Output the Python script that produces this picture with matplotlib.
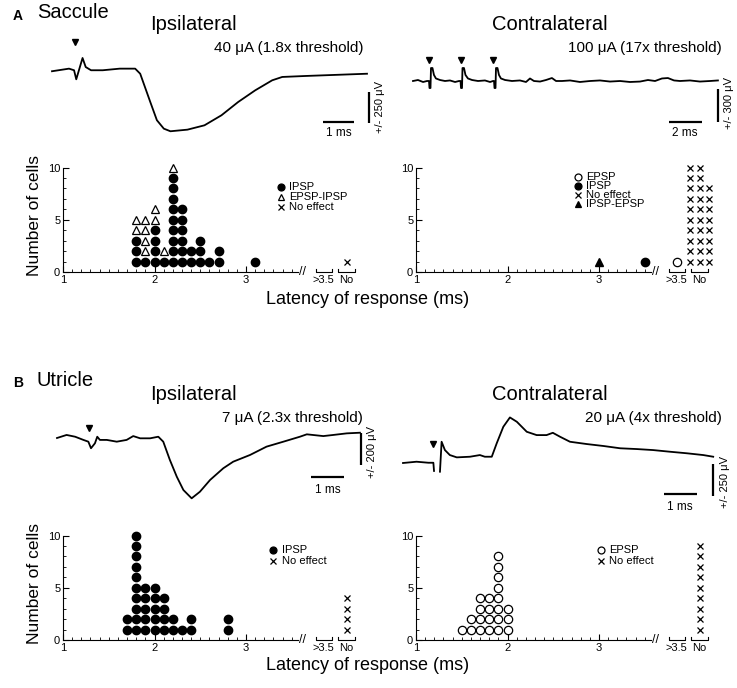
import numpy as np
import matplotlib
matplotlib.use('Agg')
import matplotlib.pyplot as plt
from matplotlib.ticker import FixedLocator

plt.rcParams['font.family'] = ['Liberation Sans', 'DejaVu Sans']

W, H = 737, 688
fig = plt.figure(figsize=(W / 100, H / 100), dpi=100)

# ---------------- trace data (time in ms, potential in µV) ----------------
sac_ipsi_t = [0, 0.54, 0.70, 0.77, 0.97, 1.07, 1.24, 1.61, 2.15, 2.64, 2.80, 3.12, 3.33, 3.55,
              3.76, 4.30, 4.84, 5.38, 5.91, 6.45, 6.99, 7.31, 8.06, 9.14, 10.0]
sac_ipsi_v = [-2, 19, 6, -67, 105, 32, 6, 6, 19, 19, -22, -250, -397, -465,
              -486, -473, -438, -357, -250, -156, -75, -48, -40, -30, -22]
sac_ipsi_stim = [0.73]

sac_contra_t = [0, 0.30, 0.61, 0.85, 0.97, 1.00, 1.06, 1.09, 1.18, 1.27, 1.39, 1.64, 1.94, 2.24,
                2.55, 2.79, 2.88, 2.91, 2.97, 3.00, 3.09, 3.18, 3.33, 3.58, 3.94, 4.36, 4.67,
                4.85, 4.91, 4.94, 5.00, 5.03, 5.12, 5.21, 5.33, 5.58, 6.00, 6.48, 6.85, 7.09,
                7.33, 7.70, 8.06, 8.42, 8.67, 9.03, 9.52, 10.12, 10.73, 11.33, 11.94, 12.55,
                13.15, 13.76, 14.24, 14.67, 15.09, 15.45, 15.82, 16.18, 16.79, 17.39, 18.0, 18.48]
sac_contra_v = [0, 9, -9, 0, 0, -64, -64, 118, 118, 55, 23, 9, 0, 5,
                -9, 0, 0, -64, -64, 118, 118, 55, 23, 9, 0, 5, -9,
                0, 0, -64, -64, 118, 118, 55, 23, 9, 0, 5, -9, 23,
                0, -5, 9, 27, 0, 0, 5, -9, 0, 5, -5, 0,
                -9, -5, 9, 0, 23, 27, 5, 0, 5, -5, 0, 5]
sac_contra_stim = [0.97, 2.89, 4.85]

utr_ipsi_t = [0, 0.29, 0.55, 0.80, 0.95, 1.03, 1.15, 1.22, 1.30, 1.51, 1.81, 2.11, 2.31, 2.52,
              2.82, 3.07, 3.22, 3.42, 3.63, 3.83, 4.08, 4.33, 4.64, 5.04, 5.34, 5.85, 6.35,
              6.86, 7.36, 7.57, 8.07, 8.37, 8.78, 9.18]
utr_ipsi_v = [0, 19, 8, -12, -23, -64, -33, 8, -12, -12, -23, -12, 12, -2,
              -2, 8, -23, -137, -242, -325, -377, -336, -262, -189, -148, -106, -54,
              -23, 8, 23, 12, 19, 29, 33]
utr_ipsi_stim = [0.98]

utr_contra_t = [0, 0.41, 0.77, 0.92, 0.94, np.nan, 1.12, 1.17, 1.27, 1.42, 1.63, 2.03, 2.33, 2.48,
                2.69, 2.84, 3.04, 3.24, 3.45, 3.75, 4.05, 4.35, 4.54, 4.76, 5.06, 5.57, 6.07,
                6.58, 7.08, 7.58, 8.09, 8.60, 9.10, 9.40]
utr_contra_v = [0, 10, 2, 2, -62, np.nan, -68, 166, 101, 62, 44, 49, 62, 49,
                49, 154, 283, 356, 322, 244, 218, 218, 236, 205, 166, 148, 133,
                115, 109, 101, 88, 76, 62, 49]
utr_contra_stim = [0.92]

# ---------------- dot-plot data (latency in ms, number of cells) ----------------
sac_ipsi_lat = [1.8, 1.9, 2.0, 2.1, 2.2, 2.3, 2.4, 2.5, 2.6, 2.7, 3.1]
sac_ipsi_ipsp = [3, 1, 4, 1, 9, 6, 2, 3, 1, 2, 1]
sac_ipsi_epsp_ipsp = [2, 4, 2, 1, 1, 0, 0, 0, 0, 0, 0]
sac_ipsi_none = [1]

sac_contra_ipsp_epsp_lat = [3.0]
sac_contra_ipsp_epsp = [1]
sac_contra_ipsp_lat = [3.5]
sac_contra_ipsp = [1]
sac_contra_epsp_over = [1]
sac_contra_none = [10, 10, 8]

utr_ipsi_lat = [1.7, 1.8, 1.9, 2.0, 2.1, 2.2, 2.3, 2.4, 2.8]
utr_ipsi_ipsp = [2, 10, 5, 5, 4, 2, 1, 2, 2]
utr_ipsi_none = [4]

utr_contra_lat = [1.5, 1.6, 1.7, 1.8, 1.9, 2.0]
utr_contra_epsp = [1, 2, 4, 4, 8, 3]
utr_contra_none = [9]

x_tick_vals = [1, 2, 3]
y_tick_vals = [0, 5, 10]
cat_labels = ['>3.5', 'No']

OVER_X, NO_X = 3.85, 4.1   # positions of the ">3.5" and "No" bins


def ftext(x, y, s, **kw):
    return fig.text(x / W, 1 - y / H, s, **kw)


def trace_axes(x0, y0, ppms, ppuv):
    ax = fig.add_axes([0, 0, 1, 1])
    ax.set_xlim(-x0 / ppms, (W - x0) / ppms)
    ax.set_ylim((y0 - H) / ppuv, y0 / ppuv)
    ax.axis('off')
    return ax


def draw_trace(ax, t, v, stim, stim_v, hbar, vbar, hlabel, vlabel, hl_v, vl_t, vl_v):
    ax.plot(t, v, color='black', lw=1.3, solid_joinstyle='round')
    ax.plot(stim, [stim_v] * len(stim), 'v', color='black', ms=5)
    (h0, h1, hv) = hbar
    ax.plot([h0, h1], [hv, hv], color='black', lw=1.6, solid_capstyle='butt')
    (vt, v0, v1) = vbar
    ax.plot([vt, vt], [v0, v1], color='black', lw=1.6, solid_capstyle='butt')
    ax.text((h0 + h1) / 2, hl_v, hlabel, ha='center', va='center', fontsize=8.5)
    ax.text(vl_t, vl_v, vlabel, ha='center', va='center', fontsize=8, rotation=90)


def stack(lat, counts, base=None):
    xs, ys = [], []
    for i, (x, c) in enumerate(zip(lat, counts)):
        b = base[i] if base is not None else 0
        for k in range(c):
            xs.append(x)
            ys.append(b + k + 1)
    return xs, ys


PPX, PPY = 91.5, 10.45
XMAX, YMAX = 4.3, 10.8


def dot_axes(left, y0):
    w = (XMAX - 1) * PPX
    h = YMAX * PPY
    ax = fig.add_axes([left / W, 1 - y0 / H, w / W, h / H])
    ax.set_xlim(1, XMAX)
    ax.set_ylim(0, YMAX)
    for s in ('top', 'right'):
        ax.spines[s].set_visible(False)
    ax.spines['left'].set_bounds(0, 10)
    ax.spines['bottom'].set_bounds(1, 3.57)
    for s in ('left', 'bottom'):
        ax.spines[s].set_linewidth(0.8)
    ax.set_xticks(x_tick_vals)
    ax.set_xticklabels([str(v) for v in x_tick_vals])
    ax.xaxis.set_minor_locator(FixedLocator(np.arange(1.1, 3.56, 0.1)))
    ax.set_yticks(y_tick_vals)
    ax.yaxis.set_minor_locator(FixedLocator(np.arange(1, 10)))
    ax.tick_params(which='major', direction='in', length=4, width=0.8, labelsize=8, pad=2)
    ax.tick_params(which='minor', direction='in', length=2, width=0.6)
    ax.text(3.62, 0, '//', ha='center', va='center', fontsize=9)
    for cx, lab in zip((OVER_X, NO_X), cat_labels):
        ax.plot([cx - 0.09, cx - 0.09, cx + 0.09, cx + 0.09], [0.3, 0, 0, 0.3],
                color='black', lw=0.8, clip_on=False)
        ax.annotate(lab, (cx, 0), xytext=(0, -2), textcoords='offset points',
                    ha='center', va='top', fontsize=8)
    return ax


def legend(ax, x, y, entries, dy=0.95):
    for i, (mk, mfc, lab) in enumerate(entries):
        yy = y - i * dy
        ax.plot([x], [yy], mk, color='black', mfc=mfc, ms=5 if mk != 'x' else 4,
                mew=0.9, clip_on=False)
        ax.text(x + 0.09, yy, lab, ha='left', va='center', fontsize=8)


kw_fill = dict(marker='o', ls='none', color='black', ms=6)
kw_open = dict(marker='o', ls='none', color='black', mfc='white', ms=6, mew=0.9)
kw_tri = dict(marker='^', ls='none', color='black', mfc='white', ms=6, mew=0.9)
kw_ftri = dict(marker='^', ls='none', color='black', ms=6)
kw_x = dict(marker='x', ls='none', color='black', ms=4.5, mew=0.9)

# ---------------- headings ----------------
ftext(13, 16, 'A', fontsize=10, fontweight='bold', va='center')
ftext(37, 13, 'Saccule', fontsize=14.5, va='center')
ftext(193, 24, 'Ipsilateral', fontsize=14.5, ha='center', va='center')
ftext(550, 24, 'Contralateral', fontsize=14.5, ha='center', va='center')
ftext(363, 48, '40 μA (1.8x threshold)', fontsize=11, ha='right', va='center')
ftext(722, 48, '100 μA (17x threshold)', fontsize=11, ha='right', va='center')

ftext(13, 383, 'B', fontsize=10, fontweight='bold', va='center')
ftext(37, 380, 'Utricle', fontsize=14.5, va='center')
ftext(193, 395, 'Ipsilateral', fontsize=14.5, ha='center', va='center')
ftext(550, 395, 'Contralateral', fontsize=14.5, ha='center', va='center')
ftext(363, 418, '7 μA (2.3x threshold)', fontsize=11, ha='right', va='center')
ftext(722, 418, '20 μA (4x threshold)', fontsize=11, ha='right', va='center')

# ---------------- traces ----------------
ax = trace_axes(52, 71, 31.5, 0.124)
draw_trace(ax, sac_ipsi_t, sac_ipsi_v, sac_ipsi_stim, 230, (8.6, 9.6, -410), (10.05, -170, -420),
           '1 ms', '+/- 250 μV', -500, 10.4, -290)

ax = trace_axes(413, 81, 16.5, 0.11)
draw_trace(ax, sac_contra_t, sac_contra_v, sac_contra_stim, 190, (15.5, 17.5, -373), (18.5, -73, -373),
           '2 ms', '+/- 300 μV', -473, 19.15, -200)

ax = trace_axes(57, 438, 33, 0.16)
draw_trace(ax, utr_ipsi_t, utr_ipsi_v, utr_ipsi_stim, 62, (7.7, 8.7, -244), (9.2, 31, -169),
           '1 ms', '+/- 200 μV', -325, 9.55, -90)

ax = trace_axes(403, 463, 33, 0.128)
draw_trace(ax, utr_contra_t, utr_contra_v, utr_contra_stim, 150, (7.9, 8.9, -242), (9.4, -8, -258),
           '1 ms', '+/- 250 μV', -344, 9.76, -150)

# ---------------- dot plots ----------------
# A ipsilateral
ax = dot_axes(63, 272)
x, y = stack(sac_ipsi_lat, sac_ipsi_ipsp)
ax.plot(x, y, **kw_fill)
x, y = stack(sac_ipsi_lat, sac_ipsi_epsp_ipsp, base=sac_ipsi_ipsp)
ax.plot(x, y, **kw_tri)
x, y = stack([NO_X], sac_ipsi_none)
ax.plot(x, y, **kw_x)
legend(ax, 3.38, 8.1, [('o', 'black', 'IPSP'), ('^', 'white', 'EPSP-IPSP'), ('x', 'black', 'No effect')])
ax.set_ylabel('Number of cells', fontsize=12.5, labelpad=4)

# A contralateral
ax = dot_axes(416, 272)
x, y = stack(sac_contra_ipsp_epsp_lat, sac_contra_ipsp_epsp)
ax.plot(x, y, **kw_ftri)
x, y = stack(sac_contra_ipsp_lat, sac_contra_ipsp)
ax.plot(x, y, **kw_fill)
x, y = stack([OVER_X], sac_contra_epsp_over)
ax.plot(x, y, **kw_open)
x, y = stack([NO_X - 0.1, NO_X, NO_X + 0.1], sac_contra_none)
ax.plot(x, y, **kw_x)
legend(ax, 2.77, 9.1, [('o', 'white', 'EPSP'), ('o', 'black', 'IPSP'), ('x', 'black', 'No effect'),
                       ('^', 'black', 'IPSP-EPSP')], dy=0.85)

ftext(368, 300, 'Latency of response (ms)', fontsize=13, ha='center', va='center')

# B ipsilateral
ax = dot_axes(63, 640)
x, y = stack(utr_ipsi_lat, utr_ipsi_ipsp)
ax.plot(x, y, **kw_fill)
x, y = stack([NO_X], utr_ipsi_none)
ax.plot(x, y, **kw_x)
legend(ax, 3.30, 8.6, [('o', 'black', 'IPSP'), ('x', 'black', 'No effect')], dy=1.05)
ax.set_ylabel('Number of cells', fontsize=12.5, labelpad=4)

# B contralateral
ax = dot_axes(416, 640)
x, y = stack(utr_contra_lat, utr_contra_epsp)
ax.plot(x, y, **kw_open)
x, y = stack([NO_X], utr_contra_none)
ax.plot(x, y, **kw_x)
legend(ax, 3.02, 8.6, [('o', 'white', 'EPSP'), ('x', 'black', 'No effect')], dy=1.05)

ftext(368, 665, 'Latency of response (ms)', fontsize=13, ha='center', va='center')

fig.savefig('out.png', dpi=100)
